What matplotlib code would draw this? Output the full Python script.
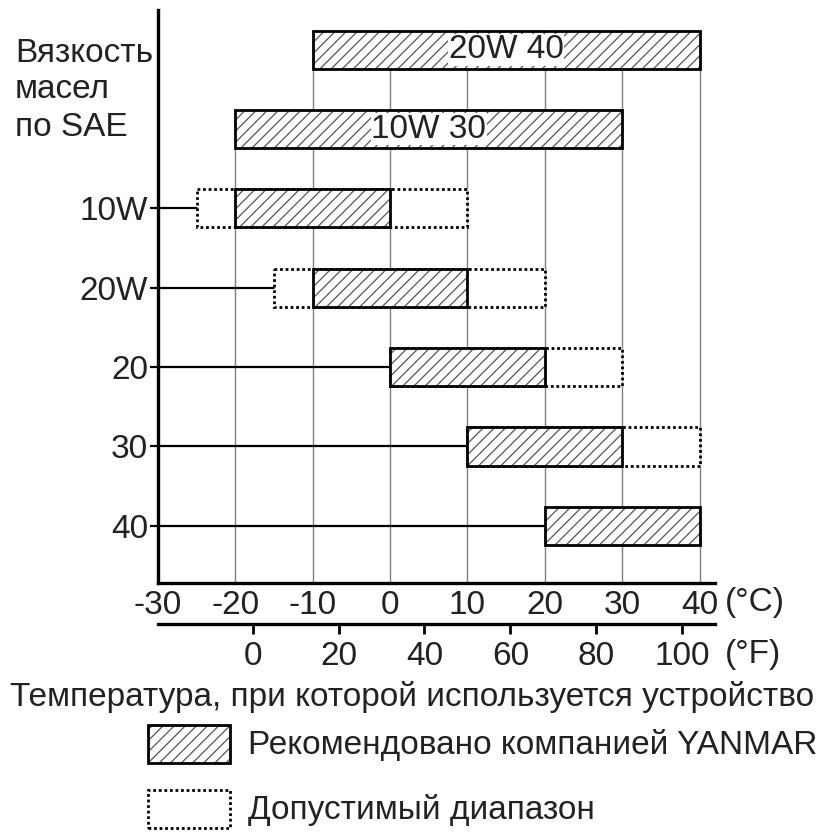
import numpy as np
import matplotlib
matplotlib.use("Agg")
import matplotlib.pyplot as plt
from matplotlib.patches import Rectangle

plt.rcParams['font.family'] = ['Liberation Sans', 'DejaVu Sans']
plt.rcParams['hatch.linewidth'] = 0.9

# SAE grades, top to bottom
grades = ['20W 40', '10W 30', '10W', '20W', '20', '30', '40']
rec_lo = [-10, -20, -20, -10, 0, 10, 20]      # recommended by YANMAR, deg C
rec_hi = [40, 30, 0, 10, 20, 30, 40]
allow_lo = [-10, -20, -25, -15, 0, 10, 20]    # permissible range, deg C
allow_hi = [40, 30, 10, 20, 30, 40, 40]
inside_label = [True, True, False, False, False, False, False]

c_ticks = [-30, -20, -10, 0, 10, 20, 30, 40]
f_ticks = [0, 20, 40, 60, 80, 100]

FS = 24
TXT = '#222222'
HATCH = '#555555'

W, H = 823, 832
fig = plt.figure(figsize=(W / 100, H / 100), dpi=100)
ax = fig.add_axes([158 / W, 1 - 583 / H, (715 - 158) / W, (583 - 10) / H])

x0, x1 = -30, 42
ax.set_xlim(x0, x1)
ax.set_ylim(6.72, -0.5)
bh = 0.48
ypos = np.arange(len(grades))

# vertical grid lines, from the first bar that covers them down to the axis
for t in c_ticks[1:]:
    top = next(i for i in ypos if rec_lo[i] <= t <= rec_hi[i])
    ax.plot([t, t], [6.72, top - bh / 2], color='#808080', lw=1.0, zorder=1)

for i in ypos:
    if not inside_label[i]:
        ax.plot([x0, allow_lo[i]], [i, i], color='black', lw=1.6, zorder=2)
    if allow_lo[i] != rec_lo[i] or allow_hi[i] != rec_hi[i]:
        ax.add_patch(Rectangle((allow_lo[i], i - bh / 2), allow_hi[i] - allow_lo[i], bh,
                               facecolor='white', edgecolor='black', lw=2.0,
                               linestyle=(0, (1, 1)), zorder=3))
    ax.add_patch(Rectangle((rec_lo[i], i - bh / 2), rec_hi[i] - rec_lo[i], bh,
                           facecolor='white', edgecolor=HATCH, lw=0,
                           hatch='///', zorder=4))
    ax.add_patch(Rectangle((rec_lo[i], i - bh / 2), rec_hi[i] - rec_lo[i], bh,
                           fill=False, edgecolor='black', lw=2.0, zorder=5))
    if inside_label[i]:
        ax.text((rec_lo[i] + rec_hi[i]) / 2, i, grades[i], ha='center', va='center',
                fontsize=FS, color=TXT, zorder=6,
                bbox=dict(facecolor='white', edgecolor='none', pad=0.5))

tick_rows = [i for i in ypos if not inside_label[i]]
ax.set_yticks(tick_rows)
ax.set_yticklabels([grades[i] for i in tick_rows], fontsize=FS, color=TXT)
ax.tick_params(axis='y', length=6, width=1.6, direction='out', pad=1)

ax.set_xticks(c_ticks)
ax.set_xticklabels([str(t) for t in c_ticks], fontsize=FS, color=TXT)
ax.tick_params(axis='x', length=0, pad=5)

for s in ['top', 'right']:
    ax.spines[s].set_visible(False)
ax.spines['left'].set_linewidth(2.4)
ax.spines['bottom'].set_linewidth(2.4)

# Fahrenheit scale below
sec = ax.secondary_xaxis(-41 / 573, functions=(lambda c: c * 9 / 5 + 32,
                                               lambda f: (f - 32) * 5 / 9))
sec.set_xticks(f_ticks)
sec.set_xticklabels([str(t) for t in f_ticks], fontsize=FS, color=TXT)
sec.tick_params(axis='x', length=7, width=2.0, direction='out', pad=5)
sec.spines['bottom'].set_linewidth(2.4)

fig.text(725 / W, 1 - 603 / H, '(°C)', fontsize=FS, va='center', ha='left', color=TXT)
fig.text(725 / W, 1 - 655 / H, '(°F)', fontsize=FS, va='center', ha='left', color=TXT)

fig.text(15 / W, 1 - 90 / H, 'Вязкость\nмасел\nпо SAE', fontsize=FS, va='center', ha='left',
         color=TXT, linespacing=1.25)

fig.text(412 / W, 1 - 697 / H, 'Температура, при которой используется устройство',
         fontsize=FS, ha='center', va='center', color=TXT)

# legend
fig.add_artist(Rectangle((148 / W, 1 - 763 / H), 82 / W, 38 / H, transform=fig.transFigure,
                         facecolor='white', edgecolor=HATCH, lw=0, hatch='///'))
fig.add_artist(Rectangle((148 / W, 1 - 763 / H), 82 / W, 38 / H, transform=fig.transFigure,
                         fill=False, edgecolor='black', lw=2.0))
fig.add_artist(Rectangle((148 / W, 1 - 828 / H), 82 / W, 38 / H, transform=fig.transFigure,
                         fill=False, edgecolor='black', lw=2.0, linestyle=(0, (1, 1))))
fig.text(248 / W, 1 - 745 / H, 'Рекомендовано компанией YANMAR', fontsize=FS,
         va='center', ha='left', color=TXT)
fig.text(248 / W, 1 - 810 / H, 'Допустимый диапазон', fontsize=FS,
         va='center', ha='left', color=TXT)

fig.savefig('out.png', dpi=100)
